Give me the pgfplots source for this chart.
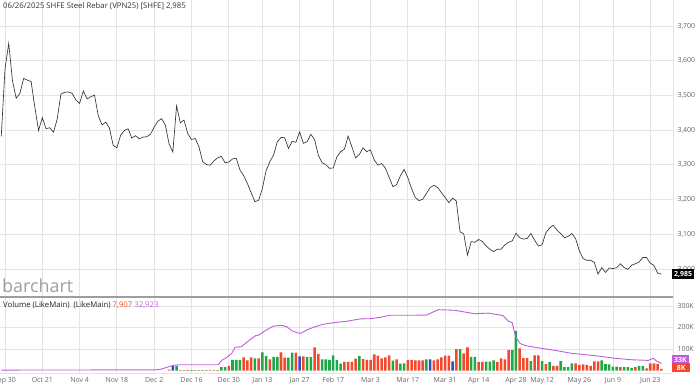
\documentclass[border=0pt]{standalone}
\usepackage{fontspec}
\setmainfont{Open Sans}
\usepackage{pgfplots}
\pgfplotsset{compat=1.18}
\definecolor{gridc}{HTML}{E4E4E4}
\definecolor{tickc}{HTML}{666666}
\definecolor{pricec}{HTML}{333333}
\definecolor{upc}{HTML}{1FA847}
\definecolor{dnc}{HTML}{F2482B}
\definecolor{blc}{HTML}{2D4FC0}
\definecolor{purp}{HTML}{C25BDC}
\begin{document}
\begin{tikzpicture}
\useasboundingbox (0bp,0bp) rectangle (700bp,389bp);
\pgfplotsset{
  common/.style={
    scale only axis, width=673bp,
    xmin=-1.34, xmax=179.1,
    axis line style={draw=none},
    major tick length=0pt,
    grid=major, grid style={gridc, line width=0.8bp},
    xtick={0,10,20,30,40,50,60,69,79,88,98,108,118,127,137,144,154,163,173},
    yticklabel pos=right,
    yticklabel style={font=\fontsize{7}{8}\selectfont, text=tickc, anchor=west, xshift=1bp},
    /pgf/number format/1000 sep={,},
    /pgf/number format/assume math mode=true,
  }
}
\begin{axis}[common, at={(0bp,92bp)}, anchor=south west, height=297bp,
  ymin=2919.3, ymax=3774.9,
  ytick={3000,3100,3200,3300,3400,3500,3600,3700},
  xticklabels={}]
\addplot[color=pricec, line width=0.65bp] coordinates {
(-1,3382)(0,3576)(1,3650)(2,3543)(3,3492)(4,3506)(5,3549)(6,3544)(7,3540)(8,3466)(9,3399)(10,3436)(11,3404)(12,3407)(13,3394)(14,3432)(15,3504)(16,3509)(17,3510)(18,3506)(19,3487)(20,3477)(21,3513)(22,3490)(23,3496)(24,3501)(25,3442)(26,3415)(27,3423)(28,3406)(29,3356)(30,3349)(31,3385)(32,3399)(33,3404)(34,3377)(35,3384)(36,3375)(37,3380)(38,3381)(39,3388)(40,3409)(41,3426)(42,3433)(43,3414)(44,3360)(45,3337)(46,3470)(47,3421)(48,3429)(49,3390)(50,3373)(51,3376)(52,3352)(53,3309)(54,3301)(55,3299)(56,3311)(57,3320)(58,3325)(59,3306)(60,3308)(61,3317)(62,3319)(63,3285)(64,3269)(65,3246)(66,3220)(67,3194)(68,3198)(69,3232)(70,3283)(71,3309)(72,3328)(73,3366)(74,3379)(75,3378)(76,3347)(77,3368)(78,3365)(79,3395)(80,3362)(81,3367)(82,3388)(83,3373)(84,3328)(85,3306)(86,3301)(87,3290)(88,3291)(89,3323)(90,3338)(91,3345)(92,3383)(93,3352)(94,3320)(95,3330)(96,3349)(97,3338)(98,3343)(99,3314)(100,3299)(101,3304)(102,3290)(103,3264)(104,3237)(105,3243)(106,3268)(107,3287)(108,3263)(109,3232)(110,3206)(111,3197)(112,3201)(113,3218)(114,3235)(115,3241)(116,3235)(117,3220)(118,3206)(119,3191)(120,3204)(121,3196)(122,3107)(123,3101)(124,3040)(125,3079)(126,3077)(127,3085)(128,3079)(129,3066)(130,3057)(131,3050)(132,3057)(133,3057)(134,3069)(135,3077)(136,3081)(137,3103)(138,3090)(139,3086)(140,3088)(141,3102)(142,3083)(143,3066)(144,3070)(145,3104)(146,3118)(147,3126)(148,3112)(149,3102)(150,3090)(151,3094)(152,3102)(153,3087)(154,3052)(155,3030)(156,3025)(157,3025)(158,3019)(159,2985)(160,3004)(161,2990)(162,3003)(163,3001)(164,3004)(165,3015)(166,3004)(167,2999)(168,3011)(169,3015)(170,3020)(171,3033)(172,3033)(173,3017)(174,3010)(175,2988)(176,2985)
};
\end{axis}
\begin{axis}[common, at={(0bp,16bp)}, anchor=south west, height=76bp,
  ymin=-11.6, ymax=341.9,
  ytick={100,200,300}, yticklabels={100K,200K,300K},
  xticklabels={Sep 30,Oct 21,Nov 4,Nov 18,Dec 2,Dec 16,Dec 30,Jan 13,Jan 27,Feb 17,Mar 3,Mar 17,Mar 31,Apr 14,Apr 28,May 12,May 26,Jun 9,Jun 23},
  xticklabel style={font=\fontsize{7}{8}\selectfont, text=tickc, yshift=-1bp}]
\addplot[ybar, bar width=0.68, bar shift=0pt, fill=upc, draw=none] coordinates {
(46,21)(48,1.5)(50,1.5)(52,1.5)(54,1.5)(56,1.5)(58,16)(59,16)(61,49)(62,50)(63,50)(67,57)(69,84)(70,67)(72,63)(73,63)(76,60)(77,83)(81,63)(82,63)(85,52)(86,52)(87,49)(88,70)(89,50)(90,32)(95,67)(104,46)(106,32)(107,33)(113,52)(122,100)(125,63)(126,63)(129,41)(130,41)(131,47)(136,95)(137,184)(141,44)(144,44)(146,40)(149,44)(150,16)(151,16)(152,33)(160,47)(161,30)(162,29)(163,18)(164,18)(166,16)(167,16)(168,12)(170,21)(171,22)
};
\addplot[ybar, bar width=0.68, bar shift=0pt, fill=dnc, draw=none] coordinates {
(44,4)(47,1.5)(49,1.5)(51,1.5)(53,1.5)(55,1.5)(57,1.5)(60,22)(64,61)(65,47)(66,61)(68,57)(71,52)(74,84)(75,60)(78,83)(80,66)(83,108)(84,77)(91,40)(92,40)(93,40)(94,55)(96,53)(97,50)(98,50)(99,75)(100,69)(101,57)(102,61)(103,70)(105,52)(108,49)(109,49)(110,47)(111,47)(112,47)(115,47)(116,52)(117,61)(118,69)(119,69)(121,100)(123,80)(124,108)(127,40)(128,40)(132,40)(133,57)(134,52)(135,95)(138,103)(139,58)(140,58)(142,70)(143,70)(145,30)(147,22)(148,22)(153,33)(154,26)(155,29)(156,26)(157,22)(158,43)(159,43)(165,16)(169,16)(172,10)(173,33)(174,33)(175,30)(176,8)
};
\addplot[ybar, bar width=0.68, bar shift=0pt, fill=blc, draw=none] coordinates {
(45,21)(79,66)(114,52)(120,43)
};
\addplot[color=purp, line width=0.9bp] coordinates {
(-1,2)(40,3)(41.6,5)(45.1,24)(46.9,27)(57.2,27)(58.1,47)(59.4,60)(60.8,80)(61.7,108)(63.4,111)(65.0,134)(67.2,162)(68.1,165)(70.2,190)(72.0,207)(74.2,210)(75.5,204)(76.9,185)(78.2,176)(79.3,173)(80.9,188)(82.7,201)(85.3,215)(88.0,222)(91.6,229)(95.2,240)(97.9,241)(100.5,247)(103.2,257)(109.4,257)(113.0,258)(116.2,283)(120.6,280)(126.0,264)(129.6,267)(133.6,255)(134.9,230)(136.0,222)(136.9,157)(138.1,126)(139.4,116)(142.1,108)(143.9,103)(148.3,91)(151.9,80)(155.5,74)(159.1,67)(163.5,57)(168.0,50)(172.5,47)(173.8,57)(174.7,44)(176.0,33)
};
\end{axis}
% frame lines
\draw[gridc, line width=0.8bp] (673bp,16bp) -- (673bp,389bp);
\draw[gridc, line width=0.8bp] (0bp,16bp) -- (673bp,16bp);
\draw[black!38, line width=1.2bp] (0bp,92bp) -- (673bp,92bp);
% texts
\node[anchor=west, inner sep=0pt, text=pricec, font=\fontsize{7.8}{9}\selectfont] at (3bp,383bp) {06/26/2025 SHFE Steel Rebar (VPN25) [SHFE] 2,985};
\node[anchor=base west, inner sep=0pt, text=black!38, font=\fontsize{18}{18}\selectfont] at (2bp,96.5bp) {barchart};
\node[anchor=west, inner sep=0pt, text=black!85, font=\fontsize{7.8}{9}\selectfont] at (3bp,84bp) {Volume (LikeMain)\ \ (LikeMain) \textcolor{dnc}{7,907} \textcolor{purp}{32,923}};
\node[anchor=west, fill=black, text=white, inner xsep=2bp, inner ysep=1.5bp, minimum height=10bp, font=\bfseries\fontsize{7}{8}\selectfont] at (672bp,114.7bp) {2,985};
\node[anchor=west, fill=purp, text=white, inner xsep=2bp, inner ysep=1bp, minimum height=9bp, font=\bfseries\fontsize{7}{8}\selectfont] at (672bp,29bp) {33K};
\node[anchor=west, fill=dnc, text=white, inner xsep=3bp, inner ysep=1bp, minimum height=9bp, minimum width=18bp, font=\bfseries\fontsize{7}{8}\selectfont] at (672bp,21bp) {8K};
\end{tikzpicture}
\end{document}
